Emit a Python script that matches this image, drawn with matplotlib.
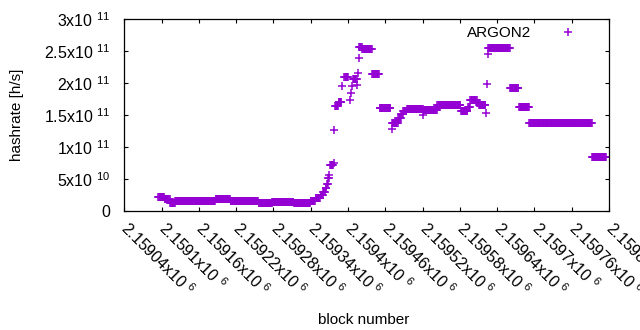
import numpy as np
import matplotlib
matplotlib.use("Agg")
import matplotlib.pyplot as plt

plt.rcParams['font.family'] = ['Liberation Sans', 'DejaVu Sans']
plt.rcParams['mathtext.fontset'] = 'custom'
plt.rcParams['mathtext.rm'] = 'Liberation Sans'
plt.rcParams['mathtext.default'] = 'regular'

# runs of blocks with a constant hashrate (start, end, h/s)
run_start = [2159095, 2159105, 2159114, 2159122, 2159187, 2159211, 2159256, 2159278,
             2159313, 2159340, 2159348, 2159356, 2159360, 2159364, 2159366, 2159368,
             2159370, 2159371, 2159379, 2159385, 2159394, 2159408, 2159418, 2159423,
             2159439, 2159451, 2159471, 2159481, 2159486, 2159489, 2159495, 2159522,
             2159544, 2159582, 2159593, 2159597, 2159608, 2159611, 2159626, 2159661,
             2159675, 2159692, 2159793]
run_end = [2159104, 2159113, 2159121, 2159186, 2159210, 2159255, 2159277, 2159312,
           2159339, 2159347, 2159355, 2159359, 2159363, 2159365, 2159367, 2159369,
           2159370, 2159376, 2159384, 2159389, 2159400, 2159414, 2159422, 2159438,
           2159450, 2159468, 2159480, 2159485, 2159488, 2159494, 2159520, 2159543,
           2159581, 2159592, 2159596, 2159607, 2159610, 2159621, 2159660, 2159674,
           2159691, 2159792, 2159815]
run_value = [2.2e10, 1.88e10, 1.3e10, 1.52e10, 1.88e10, 1.55e10, 1.25e10, 1.41e10,
             1.2e10, 1.6e10, 2.0e10, 2.5e10, 3.0e10, 3.55e10, 4.3e10, 5.1e10,
             5.6e10, 7.2e10, 1.64e11, 1.71e11, 2.1e11, 2.06e11, 2.57e11, 2.53e11,
             2.15e11, 1.61e11, 1.37e11, 1.45e11, 1.52e11, 1.56e11, 1.59e11, 1.58e11,
             1.66e11, 1.56e11, 1.62e11, 1.73e11, 1.69e11, 1.66e11, 2.55e11, 1.92e11,
             1.62e11, 1.37e11, 8.5e10]

# isolated blocks
single_block = [2159377, 2159378, 2159391, 2159403, 2159405, 2159407, 2159415,
                2159416, 2159417, 2159470, 2159521, 2159622, 2159623, 2159625]
single_value = [7.45e10, 1.27e11, 1.96e11, 1.74e11, 1.84e11, 1.95e11, 1.97e11,
                2.16e11, 2.39e11, 1.29e11, 1.5e11, 1.54e11, 1.99e11, 2.45e11]

x_ticks = np.arange(2159040, 2159821, 60)
y_ticks = [0, 5e10, 1e11, 1.5e11, 2e11, 2.5e11, 3e11]
y_labels = ['0', '5x10 $^{10}$', '1x10 $^{11}$', '1.5x10 $^{11}$',
            '2x10 $^{11}$', '2.5x10 $^{11}$', '3x10 $^{11}$']

blocks = []
rates = []
for s, e, v in zip(run_start, run_end, run_value):
    for b in range(s, e + 1):
        blocks.append(b)
        rates.append(v)
blocks += single_block
rates += single_value
order = np.argsort(blocks)
blocks = np.array(blocks)[order]
rates = np.array(rates)[order]

fig = plt.figure(figsize=(6.4, 3.3), dpi=100)
ax = fig.add_axes([124.3 / 640, 1 - 211 / 330, (609 - 124.3) / 640, (211 - 19.3) / 330])

ax.plot(blocks, rates, linestyle='none', marker='+', ms=5.2, mew=1.1,
        color='#9400d3', label='ARGON2')

ax.set_xlim(2159040, 2159820)
ax.set_ylim(0, 3e11)
ax.set_xticks(x_ticks)
ax.set_xticklabels([f'{t / 1e6:g}x10 $^{{6}}$' for t in x_ticks],
                   rotation=-45, ha='left', va='center', rotation_mode='anchor')
ax.set_yticks(y_ticks)
ax.set_yticklabels(y_labels)
ax.tick_params(direction='in', length=3.2, width=0.8, top=True, right=True,
               labelsize=11.5, colors='black')
ax.tick_params(axis='x', pad=10)
ax.tick_params(axis='y', pad=10)
for sp in ax.spines.values():
    sp.set_linewidth(0.9)

fig.text(16.7 / 640, 1 - 115 / 330, 'hashrate [h/s]', rotation=90,
         ha='center', va='center', fontsize=11)
fig.text(364 / 640, 1 - 320 / 330, 'block number', ha='center', va='center',
         fontsize=11)

ax.legend(loc='upper right', bbox_to_anchor=(1.0, 1.037), frameon=False,
          markerfirst=False, numpoints=1, fontsize=11, handlelength=3.6,
          handletextpad=0.6, borderpad=0.3, borderaxespad=0.6)

fig.savefig('out.png', dpi=100)
